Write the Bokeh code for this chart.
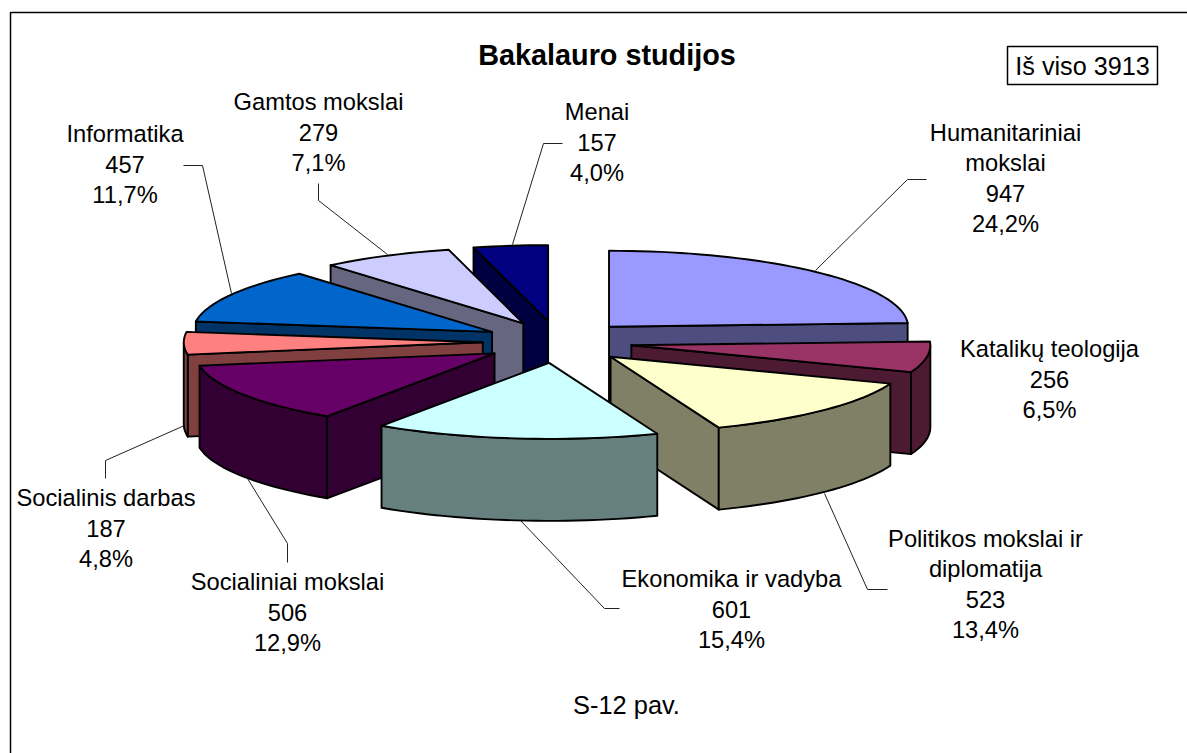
import math
from bokeh.plotting import figure
from bokeh.core.properties import value
from bokeh.embed import file_html
from bokeh.resources import INLINE

# ---- data ----
categories = ["Humanitariniai mokslai", "Katalikų teologija", "Politikos mokslai ir diplomatija",
              "Ekonomika ir vadyba", "Socialiniai mokslai", "Socialinis darbas",
              "Informatika", "Gamtos mokslai", "Menai"]
label_lines = [["Humanitariniai", "mokslai"], ["Katalikų teologija"], ["Politikos mokslai ir", "diplomatija"],
               ["Ekonomika ir vadyba"], ["Socialiniai mokslai"], ["Socialinis darbas"],
               ["Informatika"], ["Gamtos mokslai"], ["Menai"]]
values = [947, 256, 523, 601, 506, 187, 457, 279, 157]
title = "Bakalauro studijos"
total_note = "Iš viso 3913"
caption = "S-12 pav."

# ---- styles ----
top_colors = ["#9999FF", "#993366", "#FFFFCC", "#CCFFFF", "#660066", "#FF8080", "#0066CC", "#CCCCFF", "#000080"]
side_colors = ["#4D4D80", "#4D1A33", "#808066", "#668080", "#330033", "#804040", "#003366", "#666680", "#000040"]
FONT = value("Liberation Sans")
CX, CY = 557.0, 341.5     # pie centre
RX, RY = 299.0, 76.0      # ellipse radii
EX, EY = 74.75, 21.0      # radial explosion
DEPTH = 82.0
LW = 1.9

# label layout: centre x, first line y
label_pos = [(1005, 132), (1049, 348), (985, 538), (731, 578), (287, 581), (105.5, 497), (124.5, 133), (318, 101), (596.5, 111)]
LINE_H = 30.6
leaders = [
    [(926, 179), (907, 179), (815, 270)],
    None,
    [(887, 589), (867, 589), (824, 493)],
    [(619, 608), (604, 608), (520, 520)],
    [(287, 562), (287, 543), (247, 478)],
    [(105, 478), (105, 460), (184, 425)],
    [(183, 165), (202, 165), (231, 293)],
    [(318, 183), (318, 200), (387, 254)],
    [(562, 143), (543, 143), (512, 244)],
]

p = figure(width=1187, height=753, x_range=(0, 1187), y_range=(753, 0), min_border=0,
           x_axis_location=None, y_axis_location=None, toolbar_location=None,
           output_backend="svg", background_fill_color="white", border_fill_color="white")
p.outline_line_color = None
p.grid.visible = False

# frame
p.line([10, 10, 1187], [753, 12, 12], line_color="black", line_width=1.5)

# leaders
for pts in leaders:
    if pts:
        p.line([q[0] for q in pts], [q[1] for q in pts], line_color="#222222", line_width=1)

total = sum(values)
slices = []
cum = 0.0
for i, v in enumerate(values):
    a0 = cum / total * 2 * math.pi
    cum += v
    a1 = cum / total * 2 * math.pi
    mid = (a0 + a1) / 2
    ax = CX + EX * math.sin(mid)
    ay = CY - EY * math.cos(mid)
    slices.append((ay, i, a0, a1, ax))


def rim(ax, ay, t):
    return ax + RX * math.sin(t), ay - RY * math.cos(t)


def arc(ax, ay, t0, t1):
    n = max(2, int(abs(t1 - t0) / math.radians(2)) + 1)
    return [rim(ax, ay, t0 + (t1 - t0) * k / n) for k in range(n + 1)]


def face(points, color):
    p.patch([q[0] for q in points], [q[1] for q in points], fill_color=color,
            line_color="black", line_width=LW, line_join="round")


for ay, i, a0, a1, ax in sorted(slices):
    side = side_colors[i]
    # radial faces that look towards the viewer
    for t, normal in ((a0, a0 - math.pi / 2), (a1, a1 + math.pi / 2)):
        if math.cos(normal) < -1e-6:
            rx_, ry_ = rim(ax, ay, t)
            face([(ax, ay), (rx_, ry_), (rx_, ry_ + DEPTH), (ax, ay + DEPTH)], side)
    # outer wall on the front half
    w0, w1 = max(a0, math.pi / 2), min(a1, 3 * math.pi / 2)
    if w1 > w0:
        top = arc(ax, ay, w0, w1)
        face(top + [(x, y + DEPTH) for x, y in reversed(top)], side)
    # top face
    face([(ax, ay)] + arc(ax, ay, a0, a1), top_colors[i])

# labels
def put(x, y, txt, size="23.7px", style="normal"):
    p.text([x], [y], text=[txt], text_font=FONT, text_font_size=value(size), text_font_style=style,
           text_align="center", text_baseline="middle", text_color="black")


for i, lines in enumerate(label_lines):
    pct = f"{values[i] / total * 100:.1f}".replace(".", ",") + "%"
    x, y = label_pos[i]
    for k, t in enumerate(lines + [str(values[i]), pct]):
        put(x, y + k * LINE_H, t)

put(606.5, 54, title, "28.8px", "bold")
put(626, 704, caption, "25.4px")

# note box
p.quad(left=[1007], right=[1157], top=[46], bottom=[84], fill_color="white", line_color="black", line_width=1.5)
put(1082, 65, total_note, "25.2px")

open("out.html", "w").write(file_html(p, INLINE))
